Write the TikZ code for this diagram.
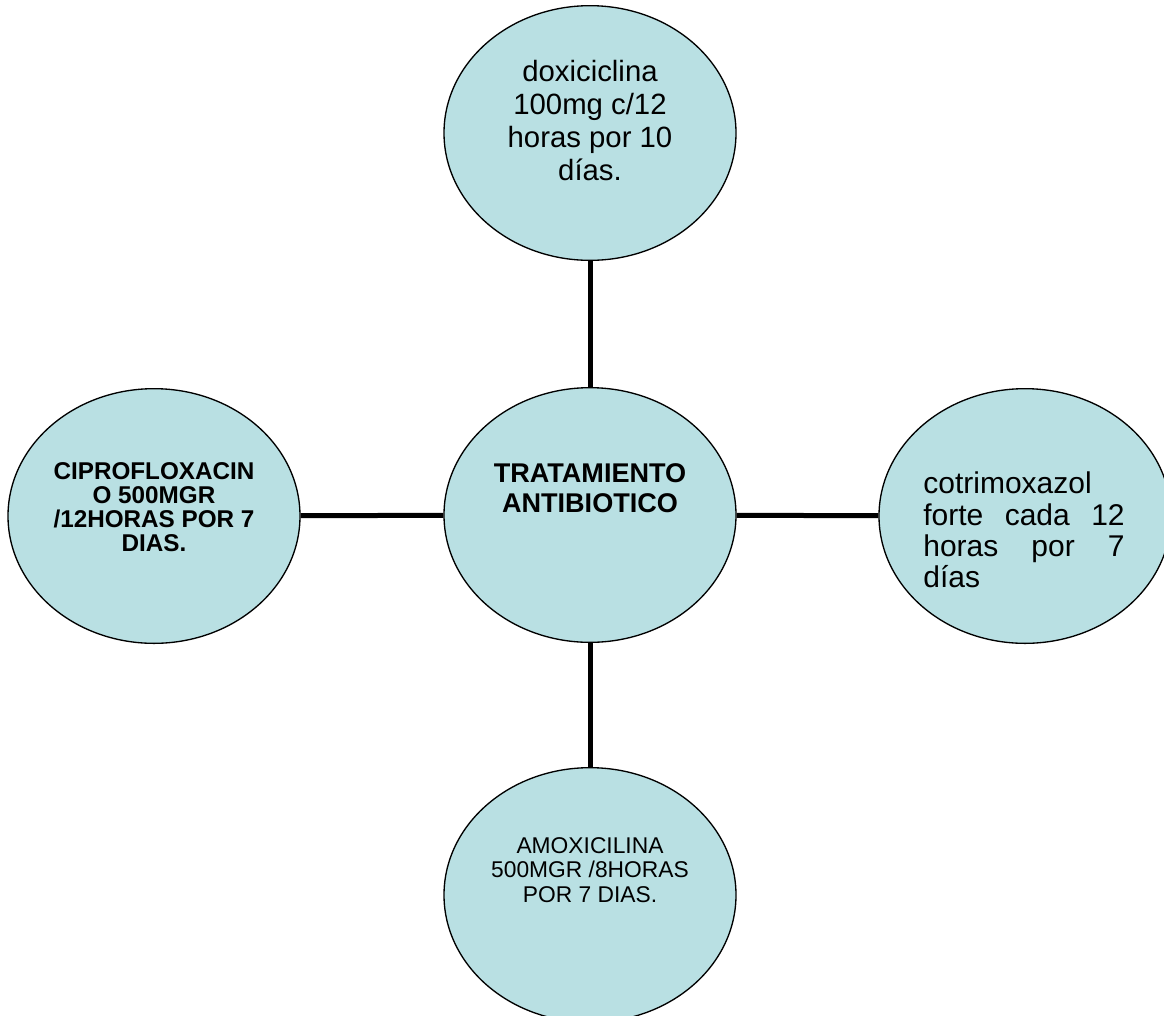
\documentclass[tikz,border=0pt]{standalone}
\usepackage{fontspec}
\setmainfont{Liberation Sans}
\usetikzlibrary{shapes.geometric}
\definecolor{bubblefill}{RGB}{185,224,227}

\begin{document}
\begin{tikzpicture}[x=0.75pt, y=-0.75pt]
    \useasboundingbox (0,0) rectangle (1164,1015);
    \tikzset{
        bubble/.style={ellipse, draw=black, line width=1pt, fill=bubblefill,
            minimum width=219pt, minimum height=191pt, inner sep=0pt},
        link/.style={line width=3.75pt},
        txt/.style={align=center, inner sep=0pt}
    }

    % Define coordinates of the bubbles
    \coordinate (C) at (590,515);
    \coordinate (N) at (590,133);
    \coordinate (W) at (154,516);
    \coordinate (E) at (1025,516);
    \coordinate (S) at (590,895);

    % Draw the bubbles
    \node[bubble] (trat) at (C) {};
    \node[bubble] (doxi) at (N) {};
    \node[bubble] (cipro) at (W) {};
    \node[bubble] (cotri) at (E) {};
    \node[bubble] (amox) at (S) {};

    % Draw the links from the centre
    \draw[link] (trat) -- (doxi);
    \draw[link] (trat) -- (cipro);
    \draw[link] (trat) -- (cotri);
    \draw[link] (trat) -- (amox);

    % Provide the texts
    \node[txt, font=\fontsize{20.3}{22.5}\selectfont\bfseries] (tratT) at (590,488)
        {TRATAMIENTO\\ANTIBIOTICO};
    \node[txt, font=\fontsize{22}{24.75}\selectfont] (doxiT) at (590,121)
        {doxiciclina\\100mg c/12\\horas por 10\\días.};
    \node[txt, font=\fontsize{18.2}{18}\selectfont\bfseries] (ciproT) at (154,507)
        {CIPROFLOXACIN\\O 500MGR\\/12HORAS POR 7\\DIAS.};
    \node[txt, align=left, text width=151pt, font=\fontsize{22.5}{23.5}\selectfont] (cotriT) at (1024,530)
        {cotrimoxazol\\forte\hfill cada\hfill 12\\horas\hfill por\hfill 7\\días};
    \node[txt, font=\fontsize{17.1}{18.5}\selectfont] (amoxT) at (590,870)
        {AMOXICILINA\\500MGR /8HORAS\\POR 7 DIAS.};
\end{tikzpicture}
\end{document}
